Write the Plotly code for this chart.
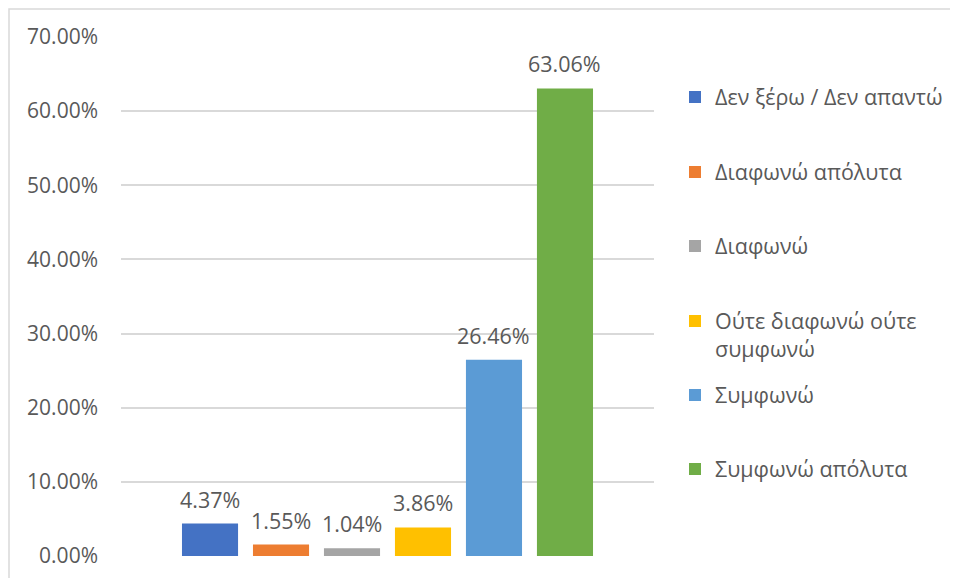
import plotly.graph_objects as go

categories = ["Δεν ξέρω / Δεν απαντώ", "Διαφωνώ απόλυτα", "Διαφωνώ",
              "Ούτε διαφωνώ ούτε<br>συμφωνώ", "Συμφωνώ", "Συμφωνώ απόλυτα"]
values = [0.0437, 0.0155, 0.0104, 0.0386, 0.2646, 0.6306]
colors = ["#4472C4", "#ED7D31", "#A5A5A5", "#FFC000", "#5B9BD5", "#70AD47"]
y_ticks = [0.0, 0.1, 0.2, 0.3, 0.4, 0.5, 0.6, 0.7]

FONT = "Open Sans"
TXT = "#595959"

# page has an 8px body margin; figure is drawn offset by it
OFF = 8
W, H = 958 - OFF, 578 - OFF
# plot area in page pixels
PL, PR, PT, PB = 121, 654, 37, 556
pw, ph = PR - PL, PB - PT

def px_x(p):
    return (p - PL) / pw

def px_y(p):
    return (PB - p) / ph

fig = go.Figure()
legend_centers = [97, 172, 246, 335, 395, 469]
legend_valign = ["middle", "middle", "middle", "top", "middle", "middle"]
for i, (c, v, col) in enumerate(zip(categories, values, colors)):
    lg = "legend" if i == 0 else f"legend{i+1}"
    fig.add_trace(go.Bar(
        x=[i], y=[v], name=c, marker=dict(color=col, line=dict(width=0)),
        width=0.79, legend=lg, showlegend=True, hoverinfo="skip",
    ))

legends = {}
for i in range(6):
    key = "legend" if i == 0 else f"legend{i+1}"
    legends[key] = dict(
        x=px_x(675), xanchor="left",
        y=px_y(legend_centers[i]), yanchor="middle",
        font=dict(family=FONT, size=21.5, color=TXT),
        bgcolor="rgba(0,0,0,0)", borderwidth=0,
        valign=legend_valign[i], itemclick=False, itemdoubleclick=False,
    )

annotations = []
for i, v in enumerate(values):
    annotations.append(dict(
        x=i, y=v, xref="x", yref="y", text=f"{v:.2%}", showarrow=False,
        yanchor="bottom", yshift=8,
        font=dict(family=FONT, size=21.5, color=TXT),
    ))

fig.update_layout(
    width=W, height=H, autosize=False,
    margin=dict(l=PL - OFF, r=W - (PR - OFF), t=PT - OFF, b=H - (PB - OFF),
                pad=0, autoexpand=False),
    paper_bgcolor="white", plot_bgcolor="white",
    barmode="overlay",
    font=dict(family=FONT, color=TXT),
    xaxis=dict(range=[-1.254, 6.254], showticklabels=False, showgrid=False,
               zeroline=False, showline=False, ticks=""),
    yaxis=dict(range=[0, 0.70], tickvals=y_ticks, tickformat=".2%",
               showgrid=True, gridcolor="#D9D9D9", gridwidth=1.5,
               zeroline=False, showline=False, ticks="",
               ticklabelstandoff=22,
               tickfont=dict(family=FONT, size=21, color=TXT)),
    annotations=annotations,
    shapes=[dict(type="rect", xref="paper", yref="paper",
                 x0=px_x(9), x1=px_x(958 + 20), y0=px_y(578 + 20), y1=px_y(9),
                 line=dict(color="#D9D9D9", width=1.5), fillcolor="rgba(0,0,0,0)",
                 layer="below")],
    **legends,
)

fig.write_html("out.html")
